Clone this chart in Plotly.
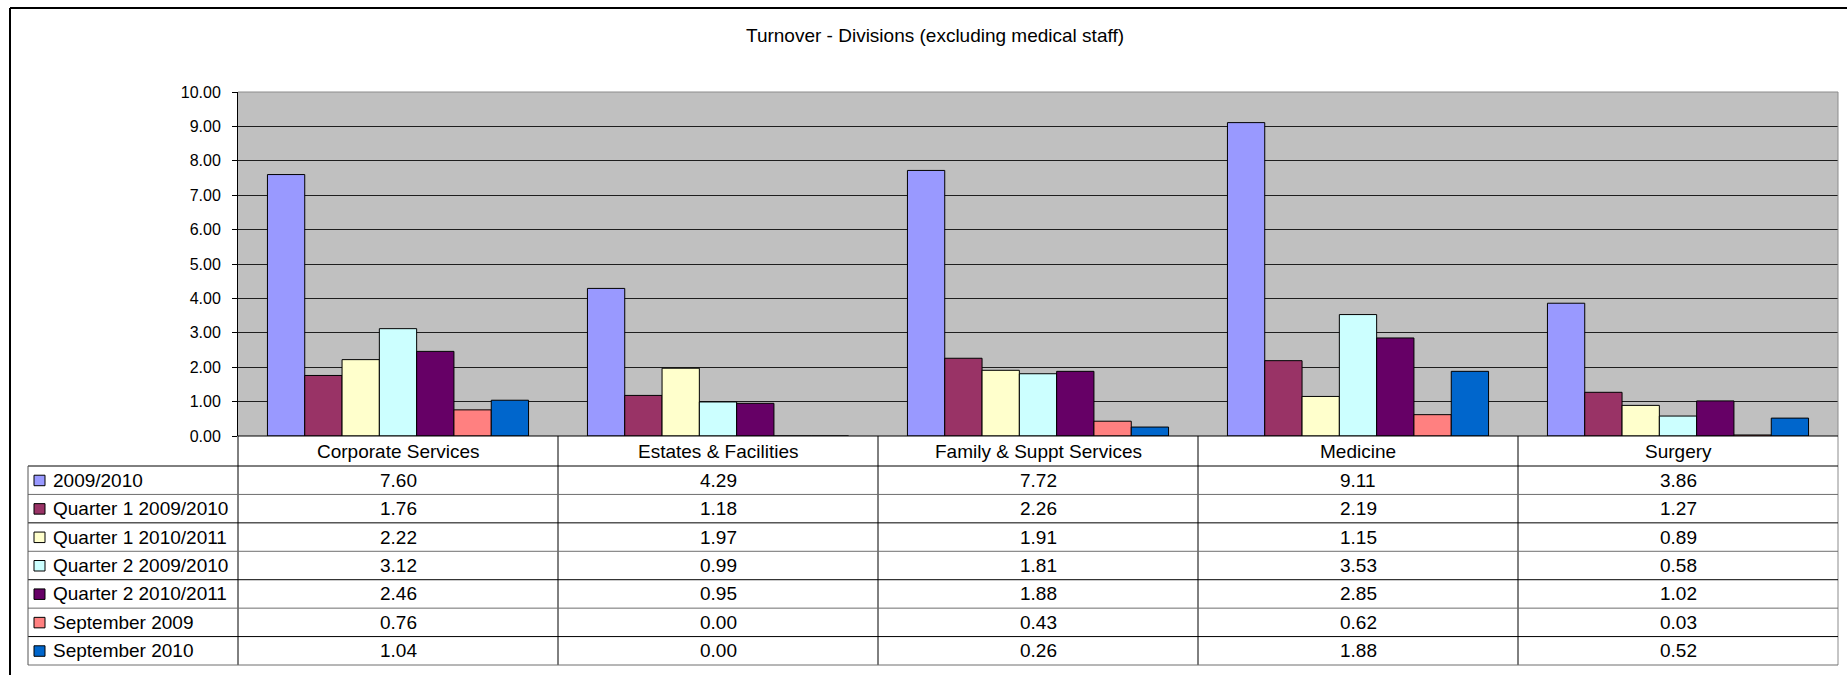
import plotly.graph_objects as go

# ---- data -------------------------------------------------------------
divisions = [
    "Corporate Services",
    "Estates & Facilities",
    "Family & Suppt Services",
    "Medicine",
    "Surgery",
]
series_names = [
    "2009/2010",
    "Quarter 1 2009/2010",
    "Quarter 1 2010/2011",
    "Quarter 2 2009/2010",
    "Quarter 2 2010/2011",
    "September 2009",
    "September 2010",
]
year_2009_10 = [7.60, 4.29, 7.72, 9.11, 3.86]
q1_2009_10 = [1.76, 1.18, 2.26, 2.19, 1.27]
q1_2010_11 = [2.22, 1.97, 1.91, 1.15, 0.89]
q2_2009_10 = [3.12, 0.99, 1.81, 3.53, 0.58]
q2_2010_11 = [2.46, 0.95, 1.88, 2.85, 1.02]
sep_2009 = [0.76, 0.00, 0.43, 0.62, 0.03]
sep_2010 = [1.04, 0.00, 0.26, 1.88, 0.52]
y_ticks = [0, 1, 2, 3, 4, 5, 6, 7, 8, 9, 10]

series_values = [year_2009_10, q1_2009_10, q1_2010_11, q2_2009_10,
                 q2_2010_11, sep_2009, sep_2010]
colors = ["#9999FF", "#993366", "#FFFFCC", "#CCFFFF",
          "#660066", "#FF8080", "#0066CC"]

# ---- page geometry (pixels) --------------------------------------------
W, H = 1847, 675
PL, PR, PT, PB = 238, 1838, 92, 436     # plot area edges
HEADER_BOTTOM = 466                      # bottom of category header row
ROW_H = (665 - HEADER_BOTTOM) / 7        # data-table row height
LEGEND_LEFT = 28

FONT = "Liberation Sans, Arial, sans-serif"
TEXT_SIZE = 19


def fx(px):
    return (px - PL) / (PR - PL)


def fy(py):
    return (PB - py) / (PB - PT)


fig = go.Figure()
for name, vals, col in zip(series_names, series_values, colors):
    fig.add_trace(go.Bar(
        x=divisions, y=vals, name=name,
        marker=dict(color=col, line=dict(color="#000000", width=1)),
    ))

shapes = []
annotations = []


def hline(py, x0, x1, color="#000000", width=1):
    shapes.append(dict(type="line", xref="paper", yref="paper",
                       x0=fx(x0), x1=fx(x1), y0=fy(py), y1=fy(py),
                       line=dict(color=color, width=width)))


def vline(px, y0, y1, color="#000000", width=1):
    shapes.append(dict(type="line", xref="paper", yref="paper",
                       x0=fx(px), x1=fx(px), y0=fy(y0), y1=fy(y1),
                       line=dict(color=color, width=width)))


# plot area frame (grey top / right)
hline(PT, PL, PR, color="#8c8c8c")
vline(PR, PT, 665, color="#8c8c8c")

# data table grid
hline(PB, PL, PR)
vline(PL, PB, 665)
ncat = len(divisions)
for k in range(1, ncat):
    vline(PL + (PR - PL) * k / ncat, PB, 665)
for r in range(8):
    yy = HEADER_BOTTOM + r * ROW_H
    hline(yy, LEGEND_LEFT, PR, color="#000000" if r % 2 == 0 else "#6e6e6e")
vline(LEGEND_LEFT, HEADER_BOTTOM, 665, color="#555555")

# outer chart border
vline(10, 8, 720, width=2)
hline(8, 10, 1900, width=2)

# category header labels
for d in divisions:
    annotations.append(dict(x=d, xref="x", y=fy((PB + HEADER_BOTTOM) / 2),
                            yref="paper", text=d, showarrow=False,
                            xanchor="center", yanchor="middle",
                            font=dict(family=FONT, size=TEXT_SIZE, color="#000000")))

# legend keys + values
for i, (name, vals, col) in enumerate(zip(series_names, series_values, colors)):
    cy = HEADER_BOTTOM + ROW_H * (i + 0.5)
    shapes.append(dict(type="rect", xref="paper", yref="paper",
                       x0=fx(34), x1=fx(45), y0=fy(cy - 5), y1=fy(cy + 5.5),
                       fillcolor=col, line=dict(color="#000000", width=1)))
    annotations.append(dict(x=fx(51), xref="paper", y=fy(cy), yref="paper",
                            text=name, showarrow=False, xanchor="left",
                            yanchor="middle",
                            font=dict(family=FONT, size=TEXT_SIZE, color="#000000")))
    for d, v in zip(divisions, vals):
        annotations.append(dict(x=d, xref="x", y=fy(cy), yref="paper",
                                text=f"{v:.2f}", showarrow=False,
                                xanchor="center", yanchor="middle",
                                font=dict(family=FONT, size=TEXT_SIZE, color="#000000")))

fig.update_layout(
    width=W, height=H, autosize=False,
    margin=dict(l=PL, r=W - PR, t=PT, b=H - PB, pad=0),
    paper_bgcolor="#FFFFFF",
    plot_bgcolor="#C0C0C0",
    showlegend=False,
    barmode="group",
    bargap=0.184,
    bargroupgap=0,
    title=dict(text="Turnover - Divisions (excluding medical staff)",
               x=935 / W, xref="container", xanchor="center",
               y=1 - 35 / H, yref="container", yanchor="middle",
               font=dict(family=FONT, size=TEXT_SIZE, color="#000000")),
    xaxis=dict(showticklabels=False, ticks="", showgrid=False,
               zeroline=False, showline=False),
    yaxis=dict(range=[0, 10], tickvals=y_ticks, tickformat=".2f",
               showgrid=True, gridcolor="#1e1e1e", gridwidth=1,
               zeroline=False, showline=True, linecolor="#000000",
               linewidth=1, ticks="outside", ticklen=5,
               tickcolor="#000000", ticklabelstandoff=8,
               tickfont=dict(family=FONT, size=16, color="#000000")),
    shapes=shapes,
    annotations=annotations,
)

fig.write_html("out.html")
